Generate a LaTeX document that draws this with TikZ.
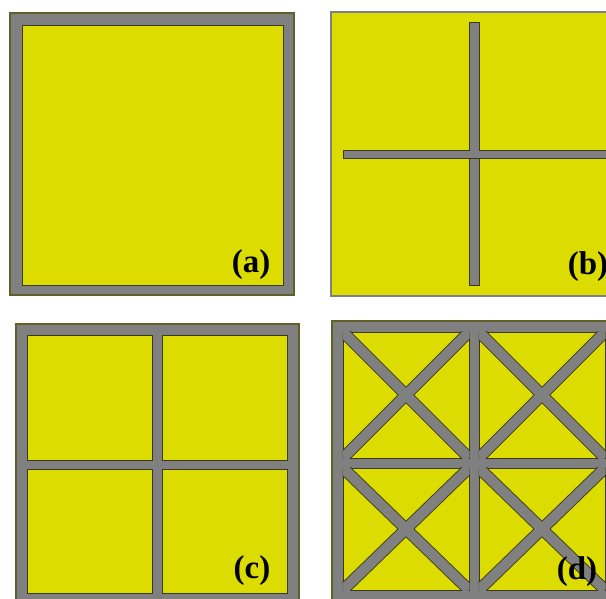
\documentclass[tikz,border=0pt]{standalone}
\usepackage{fontspec}
\setmainfont{Liberation Serif}
\definecolor{padyellow}{RGB}{220,220,0}
\definecolor{slotgray}{RGB}{128,128,128}
\definecolor{edgeolive}{RGB}{96,96,40}
\tikzset{
  frame/.style={fill=slotgray, draw=edgeolive, line width=1.3pt},
  cell/.style={fill=padyellow, draw=edgeolive!60!black, line width=0.9pt},
  slotedge/.style={draw=edgeolive!60!black, line width=12pt},
  slot/.style={draw=slotgray, line width=10.2pt},
  tag/.style={font=\bfseries\fontsize{33}{33}\selectfont, inner sep=0pt}
}
\begin{document}
\begin{tikzpicture}[x=1pt, y=-1pt]
  \clip (0,0) rectangle (606,599);
  \fill[white] (0,0) rectangle (606,599);

  % (a) plain patch
  \draw[frame] (10,13) rectangle (294,295);
  \draw[cell] (22,25) rectangle (283,285);
  \node[tag] (taga) at (251,265) {(a)};

  % (b) cross slot
  \draw[fill=padyellow, draw=slotgray, line width=1.2pt] (331,12) rectangle (617,296);
  \draw[fill=slotgray, draw=edgeolive!60!black, line width=0.9pt] (469,22) rectangle (479,285);
  \draw[fill=slotgray, draw=edgeolive!60!black, line width=0.9pt] (343,150) rectangle (612,158);
  \fill[slotgray] (469.5,150.5) rectangle (478.5,157.5);
  \node[tag] (tagb) at (588,267) {(b)};

  % (c) four cells
  \draw[frame] (16,324) rectangle (299,605);
  \foreach \xa/\xb in {27/152, 162/287}
    \foreach \ya/\yb in {335/460, 469/593}
      \draw[cell] (\xa,\ya) rectangle (\xb,\yb);
  \node[tag] (tagc) at (252,571) {(c)};

  % (d) four cells with crossed slots
  \draw[frame] (332,321) rectangle (617,610);
  \foreach \xa/\xb in {343/469, 479/605}
    \foreach \ya/\yb in {332/458, 468/590} {
      \draw[cell] (\xa,\ya) rectangle (\xb,\yb);
      \begin{scope}
        \clip (\xa-0.5,\ya-0.5) rectangle (\xb+0.5,\yb+0.5);
        \draw[slotedge] (\xa,\ya) -- (\xb,\yb) (\xa,\yb) -- (\xb,\ya);
        \draw[slot] (\xa,\ya) -- (\xb,\yb) (\xa,\yb) -- (\xb,\ya);
      \end{scope}
    }
  \node[tag] (tagd) at (577,572) {(d)};
\end{tikzpicture}
\end{document}
